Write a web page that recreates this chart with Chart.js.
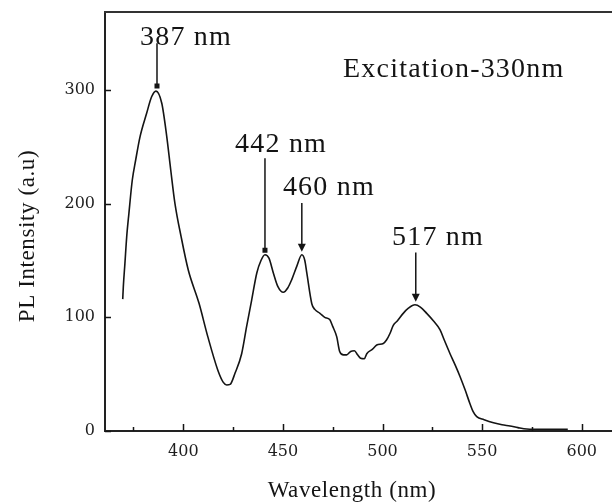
<!DOCTYPE html>
<html>
<head>
<meta charset="utf-8">
<title>PL spectrum</title>
<script src="https://cdn.jsdelivr.net/npm/chart.js@4.4.1/dist/chart.umd.min.js"></script>
<style>
  html, body { margin: 0; padding: 0; background: #fff; }
  #wrap { width: 612px; height: 504px; }
</style>
</head>
<body>
<div id="wrap"><canvas id="graficoPL" width="612" height="504"></canvas></div>
<script>
// Espectro de emisión (longitud de onda en nm, intensidad en u.a.)
const longitudOnda = [
  369.6, 369.9, 370.7, 371.6, 372.7, 374.4, 376.1, 378.3, 381.6, 384.1, 386.3,
  389.2, 391.7, 393.7, 395.8, 398.9, 402.5, 407.9, 412.3, 417.3, 420, 421.8,
  423.5, 426, 429.3, 431.8, 434.3, 436.9, 439, 441, 443, 445.2, 447.5, 450.2,
  452.5, 454.4, 457, 459.5, 461, 462, 464.5, 466, 468.6, 471, 473.5, 475, 477,
  478.5, 480.4, 482, 484, 485.9, 487.5, 489, 490.9, 492.1, 495, 497.1, 500.4,
  502, 503.8, 505.4, 507.5, 510.4, 513, 516.3, 519, 522.2, 525.5, 528.9, 531,
  533.9, 536.5, 538.9, 541.5, 543.9, 545.5, 547.3, 551, 555.7, 560, 564, 568,
  572.4, 580, 593
];
const intensidad = [
  116, 127, 147.5, 171, 191.5, 220.8, 238.4, 259, 279.5, 294, 299,
  288.3, 259, 229.6, 200.3, 171, 141.6, 112.3, 83, 53.7, 43, 40.5,
  41, 51, 68, 92, 115, 139, 150, 155, 152, 139, 127, 122,
  126, 133, 145, 155, 150, 139, 112, 107, 103.5, 100, 98, 92, 83,
  70, 67, 67, 70, 70.6, 67, 64, 63.6, 68, 72, 75.6, 77,
  80, 86, 93, 97, 103.5, 108, 111, 109, 103.5, 97, 89, 80,
  68, 58, 48, 36, 24, 17, 12.6, 10, 7.3, 5.5, 4.4, 3,
  1.8, 1.5, 1.5
];

// Marcas de los ejes
const ticksXMayores = [400, 450, 500, 550, 600];
const ticksXMenores = [375, 425, 475, 525, 575];
const ticksY = [0, 100, 200, 300];

// Picos señalados: posición, intensidad de la punta, inicio de la flecha y texto
const picosX = [386.8, 441, 459.5, 516.7];
const picosY = [303.5, 159, 157.7, 113.7];
const flechaInicioY = [341, 240, 200.6, 157];
const picosTipo = ['punto', 'punto', 'flecha', 'flecha'];
const etiquetasTexto = ['387 nm', '442 nm', '460 nm', '517 nm'];
const etiquetasX = [378.3, 426, 450, 504.8];
const etiquetasY = [339.6, 245.6, 207.6, 163.6];

const textoExcitacion = 'Excitation-330nm';
const excitacionX = 480.2;
const excitacionY = 311.4;

const tituloX = 'Wavelength (nm)';
const tituloY = 'PL Intensity (a.u)';

const serif = '"Liberation Serif", "Times New Roman", serif';
const serifTicks = '"DejaVu Serif", serif';
const tinta = '#141414';

// Dibuja marcas hacia dentro, marco superior, anotaciones y títulos
const pluginFigura = {
  id: 'figura',
  afterDatasetsDraw(chart) {
    const ctx = chart.ctx;
    const x = chart.scales.x;
    const y = chart.scales.y;
    const area = chart.chartArea;
    ctx.save();

    // marco superior
    ctx.strokeStyle = '#333';
    ctx.lineWidth = 2;
    ctx.beginPath();
    ctx.moveTo(area.left - 1, area.top);
    ctx.lineTo(area.right, area.top);
    ctx.stroke();

    // marcas del eje x (hacia dentro)
    ctx.strokeStyle = tinta;
    ctx.lineWidth = 1.5;
    ctx.beginPath();
    ticksXMayores.forEach(v => {
      const px = Math.round(x.getPixelForValue(v)) + 0.5;
      ctx.moveTo(px, area.bottom);
      ctx.lineTo(px, area.bottom - 7);
    });
    ticksXMenores.forEach(v => {
      const px = Math.round(x.getPixelForValue(v)) + 0.5;
      ctx.moveTo(px, area.bottom);
      ctx.lineTo(px, area.bottom - 4);
    });
    ticksY.forEach(v => {
      const py = Math.round(y.getPixelForValue(v)) + 0.5;
      ctx.moveTo(area.left, py);
      ctx.lineTo(area.left + 6, py);
    });
    ctx.stroke();

    // flechas y puntos de los picos
    ctx.lineWidth = 1.5;
    ctx.fillStyle = tinta;
    picosX.forEach((v, i) => {
      const px = x.getPixelForValue(v);
      const pTop = y.getPixelForValue(flechaInicioY[i]);
      const pTip = y.getPixelForValue(picosY[i]);
      ctx.beginPath();
      ctx.moveTo(px, pTop);
      ctx.lineTo(px, pTip - (picosTipo[i] === 'flecha' ? 5 : 0));
      ctx.stroke();
      if (picosTipo[i] === 'punto') {
        ctx.fillRect(px - 2.5, pTip - 2.5, 5, 5);
      } else {
        ctx.beginPath();
        ctx.moveTo(px - 4, pTip - 8);
        ctx.lineTo(px + 4, pTip - 8);
        ctx.lineTo(px, pTip);
        ctx.closePath();
        ctx.fill();
      }
    });

    // textos de los picos
    ctx.font = '28px ' + serif;
    ctx.letterSpacing = '1.2px';
    ctx.textAlign = 'left';
    ctx.textBaseline = 'alphabetic';
    etiquetasTexto.forEach((t, i) => {
      ctx.fillText(t, x.getPixelForValue(etiquetasX[i]), y.getPixelForValue(etiquetasY[i]));
    });
    ctx.fillText(textoExcitacion, x.getPixelForValue(excitacionX), y.getPixelForValue(excitacionY));

    // títulos de los ejes
    ctx.font = '23px ' + serif;
    ctx.letterSpacing = '0.6px';
    ctx.textAlign = 'center';
    ctx.fillText(tituloX, 352, 497);
    ctx.save();
    ctx.translate(34, 236);
    ctx.rotate(-Math.PI / 2);
    ctx.fillText(tituloY, 0, 0);
    ctx.restore();

    ctx.restore();
  }
};

// quita el relleno que Chart.js reserva para las etiquetas de los extremos
function sinRelleno(s) {
  s.paddingTop = 0;
  s.paddingBottom = 0;
  s.paddingLeft = 0;
  s.paddingRight = 0;
}

function generarGrafico() {
  const ctx = document.getElementById('graficoPL').getContext('2d');
  new Chart(ctx, {
    type: 'line',
    data: {
      datasets: [{
        data: longitudOnda.map((l, i) => ({ x: l, y: intensidad[i] })),
        borderColor: tinta,
        borderWidth: 1.6,
        pointRadius: 0,
        fill: false,
        cubicInterpolationMode: 'monotone'
      }]
    },
    options: {
      responsive: false,
      animation: false,
      layout: { padding: { top: 12, right: 0, left: 0, bottom: 0 } },
      plugins: { legend: { display: false }, tooltip: { enabled: false } },
      scales: {
        x: {
          type: 'linear',
          min: 360.7,
          max: 615.2,
          afterBuildTicks: s => { s.ticks = ticksXMayores.map(v => ({ value: v })); },
          afterFit: s => { s.height = 73; sinRelleno(s); },
          grid: { display: false, drawTicks: false },
          border: { display: true, color: '#222', width: 2 },
          ticks: {
            padding: 11,
            color: '#1e1e1e',
            font: { family: serifTicks, size: 16 }
          }
        },
        y: {
          type: 'linear',
          min: 0,
          max: 368.6,
          afterBuildTicks: s => { s.ticks = ticksY.map(v => ({ value: v })); },
          afterFit: s => { s.width = 105; sinRelleno(s); },
          grid: { display: false, drawTicks: false },
          border: { display: true, color: '#222', width: 2 },
          ticks: {
            padding: 10,
            color: '#1e1e1e',
            font: { family: serifTicks, size: 16 }
          }
        }
      }
    },
    plugins: [pluginFigura]
  });
}

window.onload = function() {
  generarGrafico();
};
</script>
</body>
</html>
